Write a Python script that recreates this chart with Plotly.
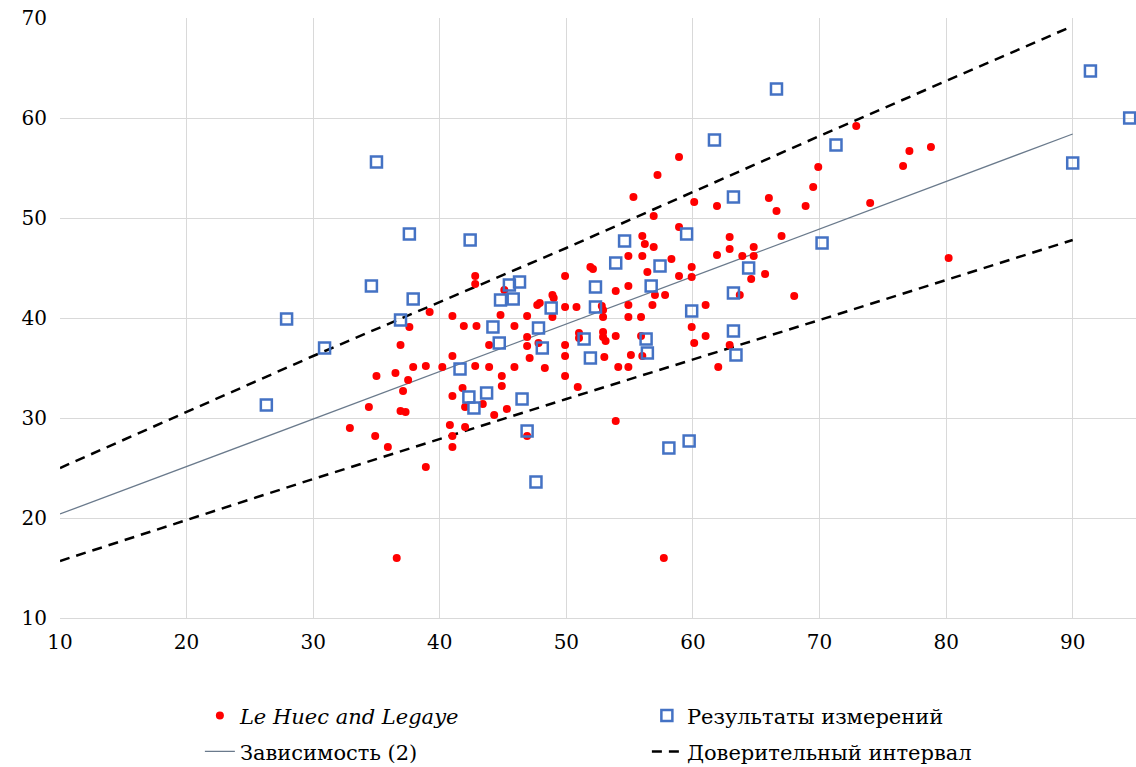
import plotly.graph_objects as go

# Le Huec and Legaye (red dots)
lh_x = [42.8, 42.8, 39.2, 41.0, 41.9, 42.9, 37.6, 44.8, 45.9, 46.9, 47.7, 47.9, 48.9, 49.0, 48.9,
        36.9, 43.9, 46.9, 46.9, 47.8, 41.0, 47.1, 35.0, 36.5, 37.5, 37.9, 38.9, 40.2, 42.8, 43.9,
        45.9, 44.9, 44.9, 48.3, 37.1, 41.8, 41.0, 45.1,
        34.4, 36.9, 37.3, 42.0, 43.4, 44.3, 45.3, 40.8, 42.0, 41.0, 41.0, 46.9, 32.9, 34.9, 35.9,
        38.9, 36.6,
        58.9, 57.2, 55.3, 60.1, 61.9, 56.9, 58.9, 62.9, 62.9, 64.8, 64.8, 61.9, 63.9, 64.6, 56.0,
        56.2, 56.9, 54.9, 56.0, 58.3, 59.9, 59.9, 58.9, 56.4, 51.9, 52.1, 49.9, 54.9, 53.9, 57.0,
        57.8, 56.8, 54.9, 54.9, 55.9, 52.9, 52.9, 52.8, 49.9, 50.8, 61.0, 63.7, 59.9, 61.0, 60.1,
        62.9, 51.0, 51.0, 52.9, 52.9, 53.1, 53.9, 55.9, 49.9,
        49.9, 49.9, 50.9, 53.0, 54.1, 54.9, 55.1, 56.0, 53.9, 62.0, 57.7,
        72.9, 78.8, 77.1, 76.6, 69.9, 69.5, 66.0, 66.6, 68.9, 74.0, 67.0, 65.7, 68.0, 80.2]
lh_y = [44.2, 43.4, 40.6, 40.2, 39.2, 39.2, 39.1, 40.3, 39.2, 40.2, 41.3, 41.5, 42.3, 42.0, 40.1,
        37.3, 37.3, 37.2, 38.1, 37.5, 36.2, 36.0, 34.2, 34.5, 33.8, 35.1, 35.2, 35.1, 35.2, 35.1,
        35.1, 34.2, 33.2, 35.0, 32.7, 33.0, 32.2, 42.8,
        31.1, 30.7, 30.6, 31.1, 31.4, 30.3, 30.9, 29.3, 29.1, 28.2, 27.1, 28.2, 29.0, 28.2, 27.1,
        25.1, 16.0,
        56.1, 54.3, 52.1, 51.6, 51.2, 50.2, 49.1, 48.1, 46.9, 47.1, 46.2, 46.3, 46.2, 43.9, 48.2,
        47.4, 47.1, 46.2, 46.2, 45.9, 45.1, 44.1, 44.2, 44.6, 45.1, 44.9, 44.2, 43.2, 42.7, 42.3,
        42.3, 41.3, 41.3, 40.1, 40.1, 40.8, 40.1, 41.2, 41.1, 41.1, 41.3, 42.3, 39.1, 38.2, 37.5,
        37.3, 38.5, 38.0, 38.6, 38.1, 37.7, 38.2, 38.2, 37.3,
        36.2, 34.2, 33.1, 36.1, 35.1, 35.1, 36.3, 36.2, 29.7, 35.1, 16.0,
        59.2, 57.1, 56.7, 55.2, 55.1, 53.1, 52.0, 50.7, 51.2, 51.5, 48.2, 44.4, 42.2, 46.0]

# Measurement results (blue open squares)
meas_x = [26.3, 27.9, 30.9, 34.6, 35.0, 36.9, 37.6, 37.9, 41.6, 42.3, 42.4, 42.7, 43.7, 44.2,
          44.7, 44.8, 45.5, 45.8, 46.3, 46.5, 46.9, 47.6, 47.8, 48.1, 48.8, 51.4, 51.9, 52.3,
          52.3, 53.9, 54.6, 56.3, 56.4, 56.7, 57.4, 58.1, 59.5, 59.7, 59.9, 61.7, 63.2, 63.2,
          63.2, 63.4, 64.4, 66.6, 70.2, 71.3, 90.0, 91.4, 94.5]
meas_y = [31.3, 39.9, 37.0, 43.2, 55.6, 39.8, 48.4, 41.9, 34.9, 32.1, 47.8, 31.0, 32.5, 39.1,
          37.5, 41.8, 43.3, 41.9, 43.6, 31.9, 28.7, 23.6, 39.0, 37.0, 41.0, 37.9, 36.0, 43.1,
          41.1, 45.5, 47.7, 37.9, 36.5, 43.2, 45.2, 27.0, 48.4, 27.7, 40.7, 57.8, 52.1, 42.5,
          38.7, 36.3, 45.0, 62.9, 47.5, 57.3, 55.5, 64.7, 60.0]

# Dependence (2) and confidence interval
fit_x = [10, 90]
fit_y = [20.4, 58.4]
ci_x = [10, 30, 50, 70, 90]
ci_upper = [25.0, 36.2, 47.0, 58.2, 69.2]
ci_lower = [15.7, 23.9, 31.9, 39.8, 47.8]

x_ticks = [10, 20, 30, 40, 50, 60, 70, 80, 90]
y_ticks = [10, 20, 30, 40, 50, 60, 70]

FONT = "DejaVu Serif"

fig = go.Figure()
fig.add_trace(go.Scatter(x=fit_x, y=fit_y, mode="lines", name="Зависимость (2)",
                         line=dict(color="#6a7a8c", width=1.3), legend="legend2"))
fig.add_trace(go.Scatter(x=ci_x, y=ci_upper, mode="lines", name="Доверительный интервал",
                         line=dict(color="black", width=2.5, dash="10px,7px"),
                         legendgroup="ci", legend="legend2"))
fig.add_trace(go.Scatter(x=ci_x, y=ci_lower, mode="lines", name="Доверительный интервал",
                         line=dict(color="black", width=2.5, dash="10px,7px"),
                         legendgroup="ci", showlegend=False, legend="legend2"))
fig.add_trace(go.Scatter(x=lh_x, y=lh_y, mode="markers", name="<i>Le Huec and Legaye</i>",
                         marker=dict(color="#ff0000", size=8, line=dict(width=0)),
                         legend="legend"))
fig.add_trace(go.Scatter(x=meas_x, y=meas_y, mode="markers", name="Результаты измерений",
                         marker=dict(symbol="square-open", color="#4472c4", size=11,
                                     line=dict(width=2.5, color="#4472c4")),
                         cliponaxis=False, legend="legend"))

legend_common = dict(orientation="h", xanchor="left", yanchor="middle",
                     font=dict(family=FONT, size=21, color="black"),
                     entrywidth=402, entrywidthmode="pixels",
                     bgcolor="rgba(0,0,0,0)", traceorder="normal")

fig.update_layout(
    width=1136, height=767,
    margin=dict(l=60, r=0, t=18, b=149, autoexpand=False),
    plot_bgcolor="white", paper_bgcolor="white",
    font=dict(family=FONT, size=20, color="black"),
    showlegend=True,
    legend=dict(x=0.130, y=-0.163, **legend_common),
    legend2=dict(x=0.130, y=-0.223, **legend_common),
    xaxis=dict(range=[10, 95], tickvals=x_ticks, ticktext=[str(v) for v in x_ticks],
               showgrid=True, gridcolor="#d9d9d9", gridwidth=1,
               showline=True, linecolor="#d9d9d9", linewidth=1,
               zeroline=False, ticks="", ticklabelstandoff=6,
               tickfont=dict(family=FONT, size=20, color="black")),
    yaxis=dict(range=[10, 70], tickvals=y_ticks, ticktext=[str(v) for v in y_ticks],
               showgrid=True, gridcolor="#d9d9d9", gridwidth=1,
               showline=False, zeroline=False, ticks="", ticklabelstandoff=12,
               tickfont=dict(family=FONT, size=20, color="black")),
)

fig.write_html("out.html")
